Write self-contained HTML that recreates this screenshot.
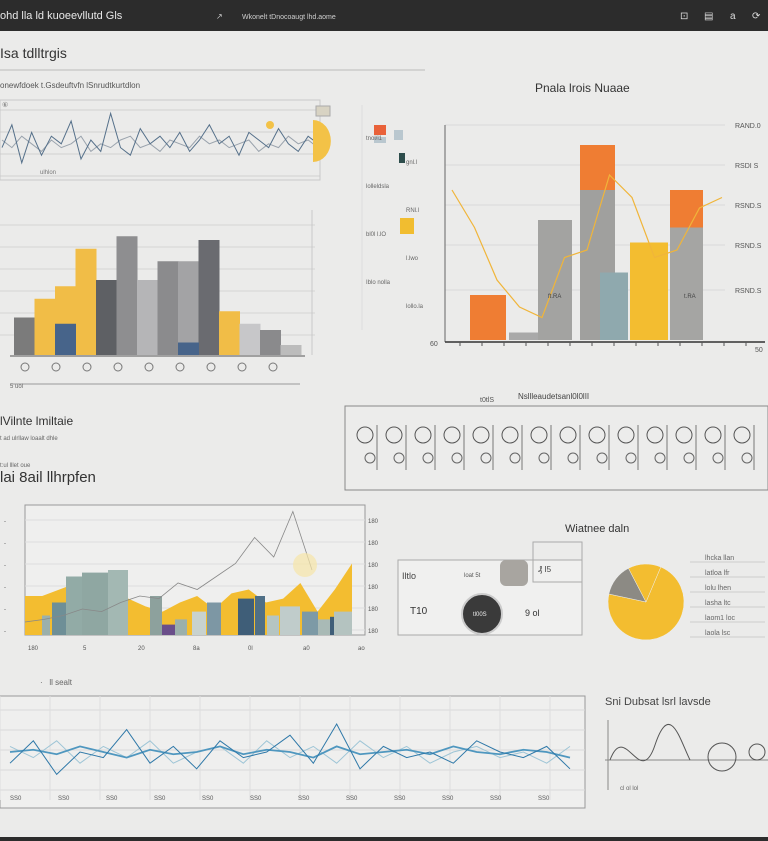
<!DOCTYPE html>
<html><head><meta charset="utf-8">
<style>
html,body{margin:0;padding:0;background:#ebebea;}
svg{display:block;font-family:"Liberation Sans",sans-serif;}
</style></head>
<body>
<svg id="s" width="768" height="841" viewBox="0 0 768 841" xmlns="http://www.w3.org/2000/svg">
<rect x="0" y="0" width="768" height="841" fill="#ebebea"/>
<g>
<rect x="0" y="0" width="768" height="31" fill="#2c2c2c"/>
<text x="0" y="19" fill="#e8e8e8" font-size="11">ohd lla ld kuoeevllutd Gls</text>
<text x="216" y="19" fill="#cfcfcf" font-size="8">↗</text>
<text x="242" y="19" fill="#cfcfcf" font-size="7">Wkonelt tDnocoaugt lhd.aome</text>
<text x="680" y="19" fill="#ddd" font-size="10">⊡</text>
<text x="704" y="19" fill="#ddd" font-size="10">▤</text>
<text x="730" y="19" fill="#ddd" font-size="10">a</text>
<text x="752" y="19" fill="#ddd" font-size="10">⟳</text>
</g>
<rect x="0" y="837" width="768" height="4" fill="#2c2c2c"/>
<text x="0" y="58" font-size="14" fill="#333">Isa tdlltrgis</text>
<line x1="0" y1="70" x2="425" y2="70" stroke="#bbb"/>
<text x="0" y="88" font-size="8" fill="#555">onewfdoek t.Gsdeuftvfn lSnrudtkurtdlon</text>
<text x="535" y="92" font-size="12" fill="#333">Pnala lrois Nuaae</text>
<text x="0" y="425" font-size="12" fill="#333">lVilnte lmiltaie</text>
<text x="0" y="440" font-size="6" fill="#666">t ad ulrllaw loaalt dhle</text>
<text x="0" y="467" font-size="6" fill="#666">t:ul lllet oue</text>
<text x="0" y="482" font-size="15" fill="#333">lai 8ail llhrpfen</text>
<text x="565" y="532" font-size="11" fill="#333">Wiatnee daln</text>
<text x="605" y="705" font-size="11" fill="#444">Sni Dubsat lsrl lavsde</text>
<text x="40" y="685" font-size="8" fill="#666">· &nbsp; ll sealt</text>
<text x="480" y="402" font-size="7" fill="#555">t0tlS</text>
<text x="518" y="399" font-size="8" fill="#444">Nsllleaudetsanl0l0lII</text>
<g id="g"></g>
</svg>
<script>
const NS="http://www.w3.org/2000/svg";
const root=document.getElementById('g');
function mk(tag,attrs,parent){const e=document.createElementNS(NS,tag);for(const k in attrs)e.setAttribute(k,attrs[k]);(parent||root).appendChild(e);return e;}
function lin(d0,d1,r0,r1){return v=>r0+(v-d0)/(d1-d0)*(r1-r0);}

// ---- data ----
const line1Values=[40,70,20,60,30,55,45,75,25,50,35,85,40,30,65,45,55,40,60,35,50,70,45,55,30,60,50,40,65,45,35,55,45];
const line1Values2=[50,40,55,45,35,50,40,45,55,35,45,40,50,55,40,45,35,50,45,40,55,45,50,40,45,50,35,45,40,55,45,50,40];
const bar1Values=[30,45,55,85,60,95,60,75,75,92,35,25,20,8];
const bar1Colors=["#7b7b7b","#f1bd47","#f1bd47","#f1bd47","#5e6064","#8e8e90","#b5b5b7","#8b8b8d","#a3a3a5","#6a6b70","#f1bd47","#c7c7c9","#8a8a8c","#bcbcbc"];
const bar2Base=[30,5,80,100,45,65,75];
const bar2Top=[0,0,0,30,0,0,25];
const bar2Colors=["#ef7d33","#a9a9a9","#a3a3a1","#a0a09e","#8fa9ae","#f3bd30","#a5a5a3"];
const line2Values=[100,75,40,22,15,55,60,110,95,55,60,88,95];
const legendColors=["#e9623a","#b9c7cf","#2d4d4c","#f1bd30"];
const rightTicks=["RAND.0","RSDI S","RSND.S","RSND.S","RSND.S","50"];
const area3Values=[30,30,35,40,35,20,28,22,18,25,30,20,32,35,25,28,40,18,35,55];
const bar3Values=[15,25,45,48,50,30,8,12,18,25,28,30,15,22,18,12,14,18];
const bar3Colors=["#9bb0ac","#6e8f97","#92aba6","#8fa7a2","#a3b8b3","#8da19d","#6a4e8a","#9bb0ac","#c8d2cf","#7d97a4","#3f5e78","#4f6f86","#b5c5c2","#c0cccb","#7d9aa6","#a9bab6","#3f5e78","#b4c3c0"];
const line3Values=[10,12,15,20,18,25,30,28,40,35,45,55,75,60,95,50];
const pieValues=[72,14,14];
const pieColors=["#f3bd30","#8c8a84","#f3bd30"];
const bottomSeriesA=[40,60,30,50,45,70,40,55,35,60,45,50,65,40,75,35,55,45,50,40,60,50,45,55,35];
const bottomSeriesB=[55,45,60,40,55,45,60,40,50,55,40,60,45,55,40,60,45,55,40,50,55,45,50,40,55];
const bottomSeriesC=[50,52,48,55,50,45,52,48,50,55,48,52,50,45,55,48,50,52,48,55,50,48,52,50,45];

// ---- chart 1: top-left line ----
{const x=lin(0,line1Values.length-1,2,318),y=lin(0,100,178,102);
for(let i=0;i<4;i++)mk('line',{x1:0,x2:320,y1:110+i*22,y2:110+i*22,stroke:'#d0d0d0'});
mk('rect',{x:0,y:100,width:320,height:80,fill:'none',stroke:'#c9c9c9'});
const l2=mk('polyline',{points:line1Values2.map((v,i)=>x(i)+','+y(v)).join(' '),fill:'none',stroke:'#9aa3ad','stroke-width':1});

const l=mk('polyline',{points:line1Values.map((v,i)=>x(i)+','+y(v)).join(' '),fill:'none',stroke:'#55708a','stroke-width':1});

const c=mk('path',{d:'M313,120 A17 20 0 0 1 313,162 Z',fill:'#f3c247'});
mk('rect',{x:316,y:106,width:14,height:10,fill:'#d8d3c3',stroke:'#aaa'});
mk('circle',{cx:270,cy:125,r:4,fill:'#f3c247'});
mk('text',{x:40,y:174,'font-size':6,fill:'#777'}).textContent='ulhlon';
mk('text',{x:2,y:107,'font-size':7,fill:'#777'}).textContent='⑥';}

// ---- chart 2: top-left bars ----
{const x=i=>14+i*20.5,y=lin(0,100,355,230);
for(let i=0;i<6;i++)mk('line',{x1:0,x2:315,y1:225+i*22,y2:225+i*22,stroke:'#d4d4d4'});
mk('line',{x1:312,x2:312,y1:210,y2:355,stroke:'#c9c9c9'});
bar1Values.forEach((v,i)=>{const r=mk('rect',{x:x(i),y:y(v),width:21,height:355-y(v),fill:bar1Colors[i]});
});
mk('rect',{x:x(2),y:y(25),width:21,height:y(0)-y(25),fill:'#47648a'});
mk('rect',{x:x(8),y:y(10),width:21,height:y(0)-y(10),fill:'#47648a'});
mk('line',{x1:10,x2:305,y1:356,y2:356,stroke:'#555'});
for(let i=0;i<9;i++){mk('circle',{cx:25+i*31,cy:367,r:4,fill:'none',stroke:'#777'});}
mk('line',{x1:10,x2:300,y1:384,y2:384,stroke:'#999'});
mk('text',{x:10,y:388,'font-size':6,fill:'#666'}).textContent='5 uol';}

// ---- chart 3: top-right stacked bars ----
{const x=i=>[470,509,538,580,600,630,670][i],w=[36,30,34,35,28,38,33],y=lin(0,130,340,145);
[125,165,205,245,290].forEach((yy,i)=>{mk('line',{x1:445,x2:725,y1:yy,y2:yy,stroke:'#dadada'});
const t=mk('text',{x:735,y:yy+3,'font-size':7,fill:'#555'});t.textContent=rightTicks[i];});
mk('line',{x1:445,x2:445,y1:125,y2:342,stroke:'#666'});
mk('line',{x1:445,x2:765,y1:342,y2:342,stroke:'#333','stroke-width':1.5});
mk('text',{x:430,y:346,'font-size':7,fill:'#555'}).textContent='60';
mk('text',{x:755,y:352,'font-size':7,fill:'#555'}).textContent='50';
for(let i=0;i<14;i++)mk('line',{x1:460+i*22,x2:460+i*22,y1:342,y2:346,stroke:'#555'});
bar2Base.forEach((v,i)=>{const r=mk('rect',{x:x(i),y:y(v),width:w[i],height:340-y(v),fill:bar2Colors[i]});

if(bar2Top[i]>0){const t=mk('rect',{x:x(i),y:y(v+bar2Top[i]),width:w[i],height:y(v)-y(v+bar2Top[i]),fill:'#ef7d33'});
}});
const lx=lin(0,line2Values.length-1,452,722),ly=lin(0,130,340,145);
const pl=mk('polyline',{points:line2Values.map((v,i)=>lx(i)+','+ly(v)).join(' '),fill:'none',stroke:'#f0b53a','stroke-width':1.2});

mk('text',{x:548,y:298,'font-size':6,fill:'#444'}).textContent='ft.RA';
mk('text',{x:684,y:298,'font-size':6,fill:'#444'}).textContent='t.RA';
// legend
const ly2=[125,130,153,218];
legendColors.forEach((c,i)=>{const r=mk('rect',{x:[374,394,399,400][i],y:ly2[i],width:[12,9,6,14][i],height:[10,10,10,16][i],fill:c});
});
mk('rect',{x:374,y:137,width:12,height:6,fill:'#b9c7cf'});
['tnol/l1','gnl.l','lolleldsla','RNl.l','bl0l l.lO','l.lwo','Iblo nolla','lollo.la'].forEach((s,i)=>{
mk('text',{x:366+(i%2)*40,y:140+i*24,'font-size':6,fill:'#666'}).textContent=s;});
mk('line',{x1:362,x2:362,y1:105,y2:330,stroke:'#dedede'});}

// ---- strip box ----
{mk('rect',{x:345,y:406,width:423,height:84,fill:'#ececeb',stroke:'#888'});
for(let i=0;i<14;i++){const cx=365+i*29;
mk('circle',{cx:cx,cy:435,r:8,fill:'none',stroke:'#555'});
mk('circle',{cx:cx+5,cy:458,r:5,fill:'none',stroke:'#666'});
mk('line',{x1:cx+12,x2:cx+12,y1:425,y2:470,stroke:'#777'});}}

// ---- chart 4: area + bars ----
{const x=lin(0,area3Values.length-1,25,352),y=lin(0,100,635,505);
mk('rect',{x:25,y:505,width:340,height:130,fill:'#efefee',stroke:'#999'});
for(let i=0;i<6;i++){mk('line',{x1:25,x2:365,y1:520+i*22,y2:520+i*22,stroke:'#dddddd'});
mk('text',{x:368,y:523+i*22,'font-size':6,fill:'#555'}).textContent='180';
mk('text',{x:4,y:523+i*22,'font-size':6,fill:'#555'}).textContent='-';}
const a=mk('path',{d:'M'+x(0)+','+y(0)+' '+area3Values.map((v,i)=>'L'+x(i)+','+y(v)).join(' ')+' L'+x(area3Values.length-1)+','+y(0)+'Z',fill:'#f3bd30'});

const bx=i=>[42,52,66,82,108,150,162,175,192,207,238,255,267,280,302,318,330,334][i],bw=[8,14,16,26,20,12,14,12,14,14,16,10,12,20,16,12,4,18];
bar3Values.forEach((v,i)=>{const r=mk('rect',{x:bx(i),y:y(v),width:bw[i],height:635-y(v),fill:bar3Colors[i]});
});
const lx=lin(0,line3Values.length-1,25,312);
const l=mk('polyline',{points:line3Values.map((v,i)=>lx(i)+','+y(v)).join(' '),fill:'none',stroke:'#888','stroke-width':0.8});

mk('circle',{cx:305,cy:565,r:12,fill:'#f7e6a8',opacity:0.7});
['180','5','20','8a','0l','a0','ao'].forEach((s,i)=>mk('text',{x:28+i*55,y:650,'font-size':6,fill:'#555'}).textContent=s);}

// ---- widget panel ----
{mk('rect',{x:398,y:560,width:184,height:75,fill:'#f0f0ef',stroke:'#aaa'});
mk('rect',{x:533,y:542,width:49,height:40,fill:'none',stroke:'#aaa'});
const w=mk('rect',{x:500,y:560,width:28,height:26,rx:6,fill:'#a8a5a0'});
const d=mk('circle',{cx:482,cy:614,r:20,fill:'#3a3a3a'});
mk('circle',{cx:482,cy:614,r:20,fill:'none',stroke:'#ccc','stroke-width':2});
mk('text',{x:473,y:616,'font-size':6,fill:'#eee'}).textContent='tl00S';
mk('text',{x:402,y:579,'font-size':9,fill:'#444'}).textContent='Iltlo';
mk('text',{x:464,y:577,'font-size':6,fill:'#555'}).textContent='loat 5t';
mk('text',{x:538,y:572,'font-size':8,fill:'#444'}).textContent='₰ I5';
mk('text',{x:410,y:614,'font-size':10,fill:'#333'}).textContent='T10';
mk('text',{x:525,y:616,'font-size':9,fill:'#333'}).textContent='9 ol';}

// ---- pie ----
{const cx=646,cy=602,r=38,tot=pieValues.reduce((a,b)=>a+b,0);let ang=-Math.PI/2+0.4;
pieValues.forEach((v,i)=>{const a2=ang+v/tot*2*Math.PI;
const p=mk('path',{d:`M${cx},${cy} L${cx+r*Math.cos(ang)},${cy+r*Math.sin(ang)} A${r},${r} 0 ${a2-ang>Math.PI?1:0} 1 ${cx+r*Math.cos(a2)},${cy+r*Math.sin(a2)} Z`,fill:pieColors[i],stroke:'#eee','stroke-width':0.5});
ang=a2;});
['lhcka llan','latloa lfr','lolu lhen','lasha ltc','laom1 loc','laola lsc'].forEach((s,i)=>{
mk('line',{x1:690,x2:765,y1:562+i*15,y2:562+i*15,stroke:'#ccc'});
mk('text',{x:705,y:560+i*15,'font-size':7,fill:'#666'}).textContent=s;});}

// ---- bottom line chart ----
{const x=lin(0,bottomSeriesA.length-1,10,570),y=lin(0,100,808,696);
mk('rect',{x:0,y:696,width:585,height:112,fill:'#efefee',stroke:'#999'});
for(let i=0;i<5;i++)mk('line',{x1:0,x2:585,y1:710+i*20,y2:710+i*20,stroke:'#d9d9d9'});
for(let i=0;i<12;i++)mk('line',{x1:i*50,x2:i*50,y1:696,y2:800,stroke:'#dedede'});
[[bottomSeriesB,'#9ec5d6'],[bottomSeriesC,'#4f97bf'],[bottomSeriesA,'#2e78a8']].forEach(([s,c],k)=>{
const l=mk('polyline',{points:s.map((v,i)=>x(i)+','+y(v)).join(' '),fill:'none',stroke:c,'stroke-width':k==1?1.8:1});
});
for(let i=0;i<12;i++)mk('text',{x:10+i*48,y:800,'font-size':6,fill:'#555'}).textContent='SS0';}

// ---- bottom right mini chart ----
{mk('line',{x1:605,x2:768,y1:760,y2:760,stroke:'#888'});
mk('line',{x1:608,x2:608,y1:720,y2:790,stroke:'#888'});
mk('path',{d:'M610,760 C625,720 640,790 655,745 S680,740 690,760',fill:'none',stroke:'#555'});
mk('circle',{cx:722,cy:757,r:14,fill:'none',stroke:'#555'});
mk('circle',{cx:757,cy:752,r:8,fill:'none',stroke:'#555'});
mk('text',{x:620,y:790,'font-size':6,fill:'#666'}).textContent='cl ol lol';}
</script>
</body></html>
